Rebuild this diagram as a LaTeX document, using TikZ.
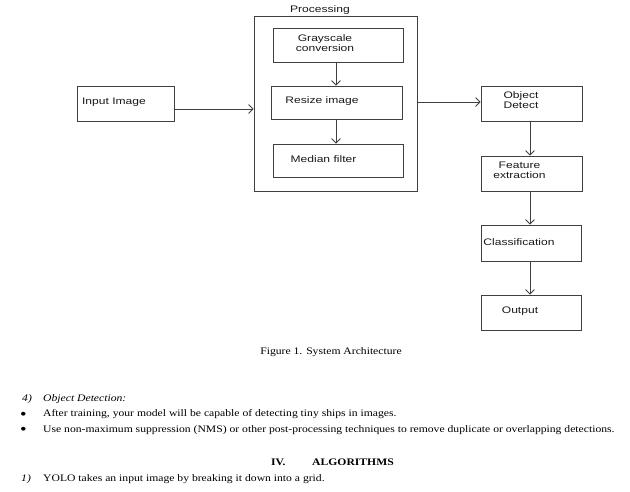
\documentclass[tikz,border=0pt]{standalone}
\usepackage{fontspec}
\setmainfont{Liberation Serif}[FakeStretch=1.165]
\newfontfamily\diagfont{Liberation Sans}[FakeStretch=1.27]
\usetikzlibrary{arrows.meta}
\begin{document}
\begin{tikzpicture}[x=1pt,y=-1pt,
  box/.style={draw=black!75, line width=0.8pt, inner sep=0pt, rectangle},
  lbl/.style={inner sep=0pt, align=center, font=\diagfont\fontsize{9.5}{10.5}\selectfont, text=black!90},
  conn/.style={draw=black!75, line width=0.8pt, -{Straight Barb[length=4.5pt,width=9pt]}},
  txt/.style={inner sep=0pt, anchor=base west, font=\fontsize{10}{12}\selectfont},
  bul/.style={inner sep=0pt, anchor=base, font=\fontsize{16}{16}\selectfont},
]
\useasboundingbox (0,0) rectangle (630,491);
% boxes
\node[box, minimum width=97pt, minimum height=35pt] (input) at (125.5,103.5) {};
\node[box, minimum width=163pt, minimum height=175pt] (proc) at (335.5,103.5) {};
\node[box, minimum width=130pt, minimum height=34pt] (gray) at (338,45) {};
\node[box, minimum width=131pt, minimum height=33pt] (resize) at (336.5,102.5) {};
\node[box, minimum width=130pt, minimum height=33pt] (median) at (338,160.5) {};
\node[box, minimum width=101pt, minimum height=35pt] (obj) at (531.5,103.5) {};
\node[box, minimum width=101pt, minimum height=35pt] (feat) at (531.5,173.5) {};
\node[box, minimum width=100pt, minimum height=36pt] (cls) at (531,243) {};
\node[box, minimum width=100pt, minimum height=35pt] (out) at (531,312.5) {};
% labels
\node[lbl] (plabel) at (320,10) {Processing};
\node[lbl] (inputt) at (114,102) {Input Image};
\node[lbl] (grayt) at (325,43) {Grayscale\\conversion};
\node[lbl] (resizet) at (322,101) {Resize image};
\node[lbl] (mediant) at (323.5,159) {Median filter};
\node[lbl] (objt) at (521,100) {Object\\Detect};
\node[lbl] (featt) at (519.5,170.5) {Feature\\extraction};
\node[lbl] (clst) at (519,242) {Classification};
\node[lbl] (outt) at (520,311) {Output};
% connectors
\draw[conn] ([yshift=-5.5pt]input.east) -- ([yshift=-5.5pt]proc.west);
\draw[conn] ([yshift=1.5pt]proc.east) -- ([yshift=1.5pt]obj.west);
\draw[conn] ([xshift=-2pt]gray.south) -- ([xshift=-0.5pt]resize.north);
\draw[conn] ([xshift=-0.5pt]resize.south) -- ([xshift=-2pt]median.north);
\draw[conn] ([xshift=-1.5pt]obj.south) -- ([xshift=-1.5pt]feat.north);
\draw[conn] ([xshift=-1.5pt]feat.south) -- ([xshift=-1pt]cls.north);
\draw[conn] ([xshift=-1pt]cls.south) -- ([xshift=-1pt]out.north);
% caption and text
\node[inner sep=0pt, anchor=base, font=\fontsize{10}{12}\selectfont] (cap) at (331,354) {Figure 1. System Architecture};
\node[txt] (n4) at (22,401) {\itshape 4)};
\node[txt] (t4) at (43,401) {\itshape Object Detection:};
\node[bul] (b1) at (23.5,419) {•};
\node[txt] (l1) at (43,416.5) {After training, your model will be capable of detecting tiny ships in images.};
\node[bul] (b2) at (23.5,434.5) {•};
\node[txt] (l2) at (43,432) {Use non-maximum suppression (NMS) or other post-processing techniques to remove duplicate or overlapping detections.};
\node[txt] (iv) at (271,465.5) {\bfseries IV.};
\node[txt] (alg) at (312,465.5) {\bfseries ALGORITHMS};
\node[txt] (n1) at (21,481) {\itshape 1)};
\node[txt] (l3) at (43,481) {YOLO takes an input image by breaking it down into a grid.};
\end{tikzpicture}
\end{document}
